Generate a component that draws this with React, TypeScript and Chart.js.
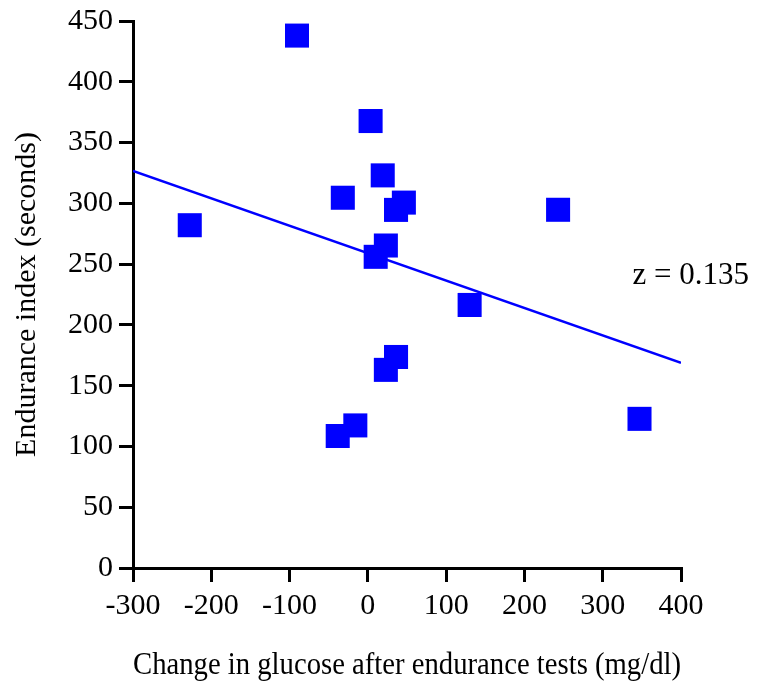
import React, { useEffect, useRef } from "react";
import { Chart, registerables } from "chart.js";

Chart.register(...registerables);

// Data
const glucoseChange = [-90.5, -227.5, -32, 3.5, 19, 36, 46, 23, 10, 130, 243, 36, 23, -16, -38.5, 347];
const enduranceIndex = [438, 282, 304.6, 367.7, 323, 294.6, 300.6, 265.3, 256, 216.4, 294.7, 173.6, 163, 117.3, 108.6, 122.7];

// Fitted line end points
const fitX = [-300, 400];
const fitY = [326.6, 168.8];

// Axes
const xMin = -300;
const xMax = 400;
const xStep = 100;
const yMin = 0;
const yMax = 450;
const yStep = 50;

const xTitle = "Change in glucose after endurance tests (mg/dl)";
const yTitle = "Endurance index (seconds)";

// Annotation
const annotationText = "z = 0.135";
const annotationX = 338;
const annotationY = 240;

const FONT = '"Liberation Serif", "Times New Roman", serif';
const BLUE = "#0000ff";

export default function App() {
  const canvasRef = useRef<HTMLCanvasElement | null>(null);

  useEffect(() => {
    document.body.style.margin = "0";
    const canvas = canvasRef.current;
    if (!canvas) return;

    const annotationPlugin = {
      id: "zAnnotation",
      afterDatasetsDraw(chart: any) {
        const { ctx, scales } = chart;
        const px = scales.x.getPixelForValue(annotationX);
        const py = scales.y.getPixelForValue(annotationY);
        ctx.save();
        ctx.font = `31px ${FONT}`;
        ctx.fillStyle = "#000";
        ctx.textAlign = "left";
        ctx.textBaseline = "middle";
        ctx.fillText(annotationText, px, py);
        ctx.restore();
      },
    };

    const chart = new Chart(canvas, {
      type: "scatter",
      data: {
        datasets: [
          {
            label: "fit",
            data: fitX.map((x, i) => ({ x, y: fitY[i] })),
            showLine: true,
            borderColor: BLUE,
            borderWidth: 2.5,
            pointRadius: 0,
            fill: false,
            order: 2,
          },
          {
            label: "subjects",
            data: glucoseChange.map((x, i) => ({ x, y: enduranceIndex[i] })),
            pointStyle: "rect",
            pointRadius: 17,
            pointHoverRadius: 17,
            backgroundColor: BLUE,
            borderColor: BLUE,
            borderWidth: 0,
            clip: false as any,
            order: 1,
          },
        ],
      },
      options: {
        animation: false,
        responsive: true,
        maintainAspectRatio: false,
        layout: { padding: { top: 20, right: 76, left: 0, bottom: 0 } },
        plugins: {
          legend: { display: false },
          tooltip: { enabled: false },
        },
        scales: {
          x: {
            type: "linear",
            min: xMin,
            max: xMax,
            ticks: {
              stepSize: xStep,
              color: "#000",
              font: { family: FONT, size: 30 },
              padding: 6,
              maxRotation: 0,
            },
            grid: {
              display: true,
              drawOnChartArea: false,
              drawTicks: true,
              tickLength: 14,
              color: "#000",
              lineWidth: 3,
            },
            border: { display: true, color: "#000", width: 3 },
            title: {
              display: true,
              text: xTitle,
              color: "#000",
              font: { family: FONT, size: 32 },
              padding: { top: 3, bottom: 0 },
            },
            afterFit(scale: any) {
              scale.height = 117;
            },
          },
          y: {
            type: "linear",
            min: yMin,
            max: yMax,
            ticks: {
              stepSize: yStep,
              color: "#000",
              font: { family: FONT, size: 30, lineHeight: 1.0 },
              padding: 6,
            },
            grid: {
              display: true,
              drawOnChartArea: false,
              drawTicks: true,
              tickLength: 14,
              color: "#000",
              lineWidth: 3,
            },
            border: { display: true, color: "#000", width: 3 },
            title: {
              display: true,
              text: yTitle,
              color: "#000",
              font: { family: FONT, size: 30 },
              padding: { top: 9, bottom: 0 },
            },
            afterFit(scale: any) {
              scale.width = 133;
            },
          },
        },
      },
      plugins: [annotationPlugin],
    });

    return () => {
      chart.destroy();
    };
  }, []);

  return (
    <div style={{ position: "relative", width: 757, height: 685, background: "#fff" }}>
      <canvas ref={canvasRef} />
    </div>
  );
}
